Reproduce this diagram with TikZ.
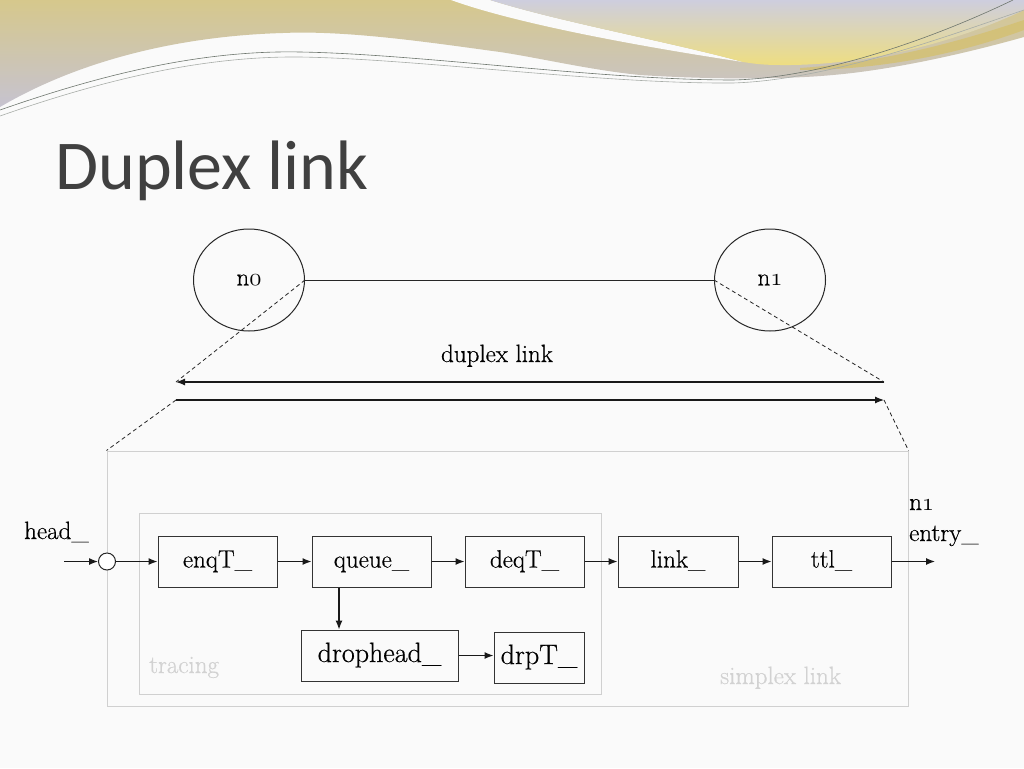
\documentclass[tikz,border=0pt]{standalone}
\usepackage{fontspec}
\setmainfont{Latin Modern Roman}[FakeBold=0.5]
\newfontfamily\titlefont{Carlito}
\usetikzlibrary{arrows.meta,shapes.geometric}
\definecolor{bg}{RGB}{250,250,250}
\definecolor{tanA}{RGB}{214,200,140}
\definecolor{lavA}{RGB}{198,195,208}
\definecolor{lavB}{RGB}{206,206,222}
\definecolor{yelB}{RGB}{238,222,128}
\definecolor{goldS}{RGB}{212,192,112}
\definecolor{decoline}{RGB}{110,118,110}
\definecolor{titlec}{RGB}{64,64,64}
\definecolor{pale}{RGB}{208,208,208}
\definecolor{paletext}{RGB}{210,210,210}
\tikzset{
  txt/.style={font=\fontsize{25}{31}\selectfont, inner sep=0pt},
  blk/.style={draw=black!80, line width=1pt, minimum width=119pt, minimum height=51pt, inner sep=0pt, text height=17pt, text depth=5pt, font=\fontsize{25}{30}\selectfont},
  bigblk/.style={blk, text height=19pt, text depth=6pt, font=\fontsize{28}{32}\selectfont},
  ell/.style={ellipse, draw=black!85, line width=1pt, minimum width=111pt, minimum height=102pt, inner sep=0pt, font=\fontsize{25}{30}\selectfont},
  framebox/.style={draw=pale, line width=1pt, inner sep=0pt},
  flow/.style={-{Latex[length=9pt,width=7pt]}, line width=1.2pt, draw=black!90},
  dashln/.style={line width=0.8pt, dash pattern=on 4pt off 3pt, draw=black!85}
}
\begin{document}
\begin{tikzpicture}[x=1pt,y=-1pt]
\useasboundingbox (0,0) rectangle (1024,768);
\fill[bg] (0,0) rectangle (1024,768);
% decorative header
\path[top color=tanA, bottom color=lavA] (0,0) -- (1024,0) -- (1024,37)
  .. controls (960,55) and (890,70) .. (833,75)
  .. controls (780,80) and (700,79) .. (640,75)
  .. controls (590,70) and (540,58) .. (500,52)
  .. controls (440,44) and (350,30) .. (283,33)
  .. controls (180,36) and (80,60) .. (0,107) -- cycle;
\fill[bg] (451,0) .. controls (520,25) and (650,48) .. (743,62)
  .. controls (670,42) and (560,22) .. (490,0) -- cycle;
\path[top color=lavB, bottom color=yelB] (490,0) -- (1024,0) -- (1024,10)
  .. controls (950,45) and (860,66) .. (780,65)
  .. controls (760,65) and (750,63) .. (743,62)
  .. controls (670,42) and (560,22) .. (490,0) -- cycle;
\fill[goldS, opacity=0.8] (800,68) .. controls (890,62) and (970,38) .. (1024,20)
  -- (1024,30) .. controls (970,50) and (890,70) .. (800,70) -- cycle;
\draw[decoline, line width=0.6pt] (0,110) .. controls (100,75) and (200,50) .. (300,52)
  .. controls (420,54) and (600,80) .. (733,80) .. controls (820,78) and (930,40) .. (1013,0);
\draw[decoline!60!white, line width=0.6pt] (0,116) .. controls (100,81) and (200,56) .. (300,57)
  .. controls (420,59) and (600,84) .. (733,83) .. controls (830,80) and (950,35) .. (1024,10);
% title
\node[anchor=base west, inner sep=0pt, text=titlec, font=\titlefont\fontsize{70}{80}\selectfont] (title) at (55,189) {Duplex link};
% nodes
\node[ell] (n0) at (249,280) {n$\mathnormal{0}$};
\node[ell] (n1) at (770,280) {n$\mathnormal{1}$};
\draw[line width=1pt, black!85] (n0.east) -- (n1.west);
\node[txt, anchor=base] (dl) at (497,362) {duplex link};
\coordinate (aL) at (176,382);
\coordinate (aR) at (884,382);
\coordinate (bL) at (176,400);
\coordinate (bR) at (884,400);
\draw[flow] (aR) -- (aL);
\draw[flow] (bL) -- (bR);
% frames
\node[framebox, minimum width=801pt, minimum height=255pt] (simplex) at (507.5,578.5) {};
\node[framebox, minimum width=462pt, minimum height=181pt] (tracing) at (370,603.5) {};
\draw[dashln] (n0.east) -- (aL);
\draw[dashln] (n1.west) -- (aR);
\draw[dashln] (bL) -- (simplex.north west);
\draw[dashln] (bR) -- (simplex.north east);
\node[txt, anchor=base west, text=paletext] (trl) at (149,673) {tracing};
\node[txt, anchor=base west, text=paletext] (sml) at (720,684) {simplex link};
% blocks
\node[blk] (enq) at (217.5,561.5) {enqT\_};
\node[blk] (queue) at (371.5,561.5) {queue\_};
\node[blk] (deq) at (524.5,561.5) {deqT\_};
\node[blk, minimum width=120pt] (link) at (678,561.5) {link\_};
\node[blk] (ttl) at (831.5,561.5) {ttl\_};
\node[bigblk, minimum width=157pt] (drop) at (379.5,655.5) {drophead\_};
\node[bigblk, minimum width=90pt] (drpT) at (539,657.5) {drpT\_};
\node[circle, draw=black!85, line width=1pt, minimum size=17pt, inner sep=0pt, fill=white] (j) at (107,561.5) {};
\coordinate (hin) at (64,561.5);
\coordinate (out) at (935,561.5);
\node[txt, anchor=base west] (headl) at (24,539) {head\_};
\node[txt, anchor=base west, align=left] (entl) at (909,541) {n$\mathnormal{1}$\\entry\_};
% connectors
\draw[flow] (hin) -- (j);
\draw[flow] (j) -- (enq);
\draw[flow] (enq) -- (queue);
\draw[flow] (queue) -- (deq);
\draw[flow] (deq) -- (link);
\draw[flow] (link) -- (ttl);
\draw[flow] (ttl) -- (out);
\draw[flow] ([xshift=-32.5pt]queue.south) -- ([xshift=-32.5pt]queue.south |- drop.north);
\draw[flow] (drop.east) -- (drop.east -| drpT.west);
\end{tikzpicture}
\end{document}
